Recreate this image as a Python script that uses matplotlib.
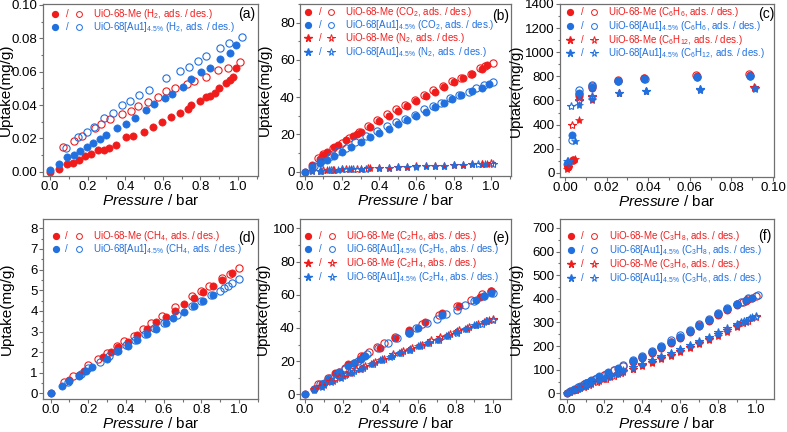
import matplotlib
matplotlib.use("Agg")
import matplotlib.pyplot as plt
from matplotlib.ticker import AutoMinorLocator

plt.rcParams["font.family"] = ["Liberation Sans", "DejaVu Sans"]
plt.rcParams["mathtext.fontset"] = "custom"
plt.rcParams["mathtext.rm"] = "Liberation Sans"
plt.rcParams["mathtext.it"] = "Liberation Sans:italic"
plt.rcParams["mathtext.default"] = "regular"

RED = "#f01c1c"
BLUE = "#2070e0"
FRAME = "#707070"

# ---- (a) H2 ----
a_me_ads_p = [0.0, 0.05, 0.088, 0.124, 0.156, 0.186, 0.218, 0.253, 0.285, 0.313, 0.35, 0.404, 0.442, 0.499, 0.549, 0.596, 0.642, 0.69, 0.735, 0.752, 0.796, 0.832, 0.85, 0.88, 0.897, 0.938, 0.956, 0.973, 0.99]
a_me_ads_u = [0.0, 0.0016, 0.0046, 0.005, 0.007, 0.0094, 0.0104, 0.0128, 0.0128, 0.014, 0.016, 0.021, 0.0214, 0.024, 0.027, 0.0298, 0.0326, 0.0352, 0.0374, 0.04, 0.0426, 0.0446, 0.0454, 0.0474, 0.05, 0.0534, 0.055, 0.0566, 0.062]
a_me_des_p = [0.07, 0.127, 0.168, 0.239, 0.274, 0.319, 0.381, 0.43, 0.469, 0.522, 0.575, 0.619, 0.667, 0.726, 0.766, 0.827, 0.894, 0.947, 1.009]
a_me_des_u = [0.0146, 0.0184, 0.0214, 0.026, 0.0286, 0.0314, 0.0346, 0.0366, 0.0394, 0.042, 0.045, 0.0486, 0.0502, 0.0526, 0.0546, 0.057, 0.061, 0.0624, 0.0658]
a_au_ads_p = [0.0, 0.05, 0.088, 0.127, 0.159, 0.195, 0.23, 0.265, 0.297, 0.357, 0.404, 0.451, 0.508, 0.552, 0.611, 0.65, 0.708, 0.749, 0.805, 0.85, 0.903, 0.956, 0.991]
a_au_ads_u = [0.001, 0.0044, 0.0086, 0.01, 0.0126, 0.015, 0.0174, 0.0194, 0.022, 0.026, 0.0286, 0.032, 0.037, 0.0404, 0.044, 0.0466, 0.0506, 0.0554, 0.0596, 0.0624, 0.0678, 0.0714, 0.076]
a_au_des_p = [0.083, 0.15, 0.195, 0.235, 0.287, 0.333, 0.381, 0.425, 0.474, 0.524, 0.619, 0.69, 0.738, 0.788, 0.832, 0.903, 0.952, 1.023]
a_au_des_u = [0.0144, 0.021, 0.0236, 0.027, 0.032, 0.0354, 0.04, 0.0426, 0.046, 0.049, 0.0564, 0.0606, 0.063, 0.0664, 0.0694, 0.074, 0.0774, 0.081]

# ---- (b) CO2 / N2 ----
b_me_co2_ads_p = [0.0, 0.04, 0.08, 0.1, 0.12, 0.16, 0.18, 0.22, 0.26, 0.28, 0.3, 0.35, 0.4, 0.45, 0.5, 0.55, 0.6, 0.65, 0.7, 0.75, 0.8, 0.85, 0.9, 0.95, 0.98]
b_me_co2_ads_u = [0.0, 3.5, 7.0, 9.0, 10.5, 13.0, 14.5, 17.0, 19.0, 20.0, 21.5, 24.0, 27.0, 30.0, 32.5, 35.5, 38.0, 40.5, 43.0, 45.5, 48.0, 50.5, 52.5, 55.0, 57.5]
b_me_co2_des_p = [0.07, 0.1, 0.15, 0.2, 0.24, 0.29, 0.34, 0.39, 0.44, 0.49, 0.54, 0.59, 0.64, 0.69, 0.74, 0.79, 0.84, 0.89, 0.94, 0.97, 1.01]
b_me_co2_des_u = [7.5, 9.5, 12.5, 15.5, 18.0, 21.5, 24.5, 27.5, 31.0, 33.5, 36.0, 38.5, 41.0, 44.0, 46.0, 48.5, 50.5, 52.5, 55.5, 56.5, 58.5]
b_au_co2_ads_p = [0.0, 0.04, 0.08, 0.12, 0.16, 0.2, 0.25, 0.3, 0.35, 0.4, 0.45, 0.5, 0.55, 0.6, 0.65, 0.7, 0.75, 0.79, 0.84, 0.9, 0.95, 0.99]
b_au_co2_ads_u = [0.0, 2.5, 4.5, 6.5, 8.5, 10.5, 13.5, 16.0, 18.5, 21.0, 23.0, 25.5, 27.5, 30.0, 32.0, 34.5, 37.0, 39.0, 41.0, 43.5, 45.0, 47.0]
b_au_co2_des_p = [0.05, 0.09, 0.14, 0.18, 0.22, 0.27, 0.33, 0.39, 0.44, 0.49, 0.54, 0.59, 0.64, 0.69, 0.73, 0.78, 0.83, 0.88, 0.92, 0.96, 1.01]
b_au_co2_des_u = [3.0, 6.0, 8.5, 11.0, 12.5, 16.0, 19.0, 22.0, 24.5, 26.5, 28.5, 30.5, 33.5, 35.0, 37.0, 39.5, 41.0, 43.0, 45.0, 46.5, 48.0]
b_me_n2_ads_p = [0.04, 0.08, 0.12, 0.16, 0.2, 0.25, 0.3, 0.35, 0.45, 0.55, 0.65, 0.75, 0.85, 0.95, 0.98]
b_me_n2_ads_u = [0.3, 0.6, 0.8, 1.0, 1.2, 1.4, 1.6, 1.8, 2.2, 2.5, 2.9, 3.2, 3.6, 4.0, 4.3]
b_me_n2_des_p = [0.1, 0.15, 0.22, 0.28, 0.34, 0.4, 0.5, 0.6, 0.7, 0.8, 0.9, 0.95, 1.0]
b_me_n2_des_u = [0.7, 1.0, 1.3, 1.5, 1.8, 2.0, 2.4, 2.8, 3.2, 3.6, 4.0, 4.2, 4.5]
b_au_n2_ads_p = [0.04, 0.08, 0.13, 0.18, 0.24, 0.3, 0.4, 0.5, 0.6, 0.7, 0.8, 0.9, 0.97]
b_au_n2_ads_u = [0.3, 0.5, 0.8, 1.0, 1.3, 1.5, 1.9, 2.3, 2.7, 3.1, 3.5, 3.9, 4.2]
b_au_n2_des_p = [0.09, 0.14, 0.2, 0.26, 0.33, 0.45, 0.55, 0.65, 0.75, 0.85, 0.93, 1.01]
b_au_n2_des_u = [0.6, 0.9, 1.2, 1.4, 1.7, 2.1, 2.5, 2.9, 3.3, 3.7, 4.0, 4.3]

# ---- (c) C6H6 / C6H12 ----
c_me_bz_ads_p = [0.0013, 0.0038, 0.0065, 0.0128, 0.0255, 0.038, 0.0635, 0.089]
c_me_bz_ads_u = [45, 105, 640, 705, 765, 785, 805, 815]
c_me_bz_des_p = [0.0015, 0.0038, 0.0065, 0.013, 0.0255, 0.038, 0.063, 0.0885]
c_me_bz_des_u = [55, 110, 655, 720, 770, 790, 810, 822]
c_au_bz_ads_p = [0.0012, 0.0033, 0.0065, 0.0128, 0.0255, 0.038, 0.0635, 0.089]
c_au_bz_ads_u = [70, 315, 660, 715, 760, 780, 795, 805]
c_au_bz_des_p = [0.0013, 0.0035, 0.0066, 0.0128, 0.0255, 0.0383, 0.0635, 0.0888]
c_au_bz_des_u = [80, 275, 685, 725, 765, 780, 795, 805]
c_me_cy_ads_p = [0.0012, 0.0048, 0.0068, 0.013, 0.026, 0.039, 0.065, 0.091]
c_me_cy_ads_u = [35, 118, 435, 600, 665, 675, 690, 705]
c_me_cy_des_p = [0.0014, 0.0032, 0.0066, 0.013, 0.026, 0.039, 0.065, 0.091]
c_me_cy_des_u = [45, 400, 595, 625, 665, 680, 695, 710]
c_au_cy_ads_p = [0.0012, 0.005, 0.0066, 0.013, 0.026, 0.039, 0.065, 0.0915]
c_au_cy_ads_u = [95, 265, 560, 610, 660, 675, 690, 695]
c_au_cy_des_p = [0.0013, 0.003, 0.0066, 0.013, 0.026, 0.039, 0.065, 0.0915]
c_au_cy_des_u = [100, 550, 600, 640, 665, 680, 695, 700]

# ---- (d) CH4 ----
d_me_ads_p = [0.0, 0.1, 0.15, 0.18, 0.28, 0.32, 0.36, 0.41, 0.46, 0.51, 0.56, 0.61, 0.66, 0.71, 0.76, 0.81, 0.86, 0.91, 0.96]
d_me_ads_u = [0.0, 0.65, 0.9, 1.1, 1.75, 2.0, 2.25, 2.5, 2.85, 3.1, 3.45, 3.7, 4.0, 4.32, 4.6, 4.92, 5.22, 5.5, 5.83]
d_me_des_p = [0.07, 0.12, 0.2, 0.25, 0.3, 0.35, 0.39, 0.44, 0.49, 0.53, 0.59, 0.66, 0.75, 0.8, 0.84, 0.91, 0.95, 1.0]
d_me_des_u = [0.55, 0.85, 1.4, 1.65, 1.95, 2.3, 2.55, 2.8, 3.1, 3.4, 3.75, 4.2, 4.7, 4.95, 5.2, 5.6, 5.8, 6.08]
d_au_ads_p = [0.0, 0.06, 0.1, 0.15, 0.19, 0.22, 0.3, 0.36, 0.41, 0.46, 0.51, 0.56, 0.61, 0.65, 0.71, 0.76, 0.81, 0.86]
d_au_ads_u = [0.0, 0.35, 0.6, 0.85, 1.08, 1.28, 1.68, 2.05, 2.32, 2.58, 2.87, 3.12, 3.42, 3.65, 3.95, 4.25, 4.5, 4.75]
d_au_des_p = [0.09, 0.16, 0.2, 0.26, 0.31, 0.35, 0.4, 0.45, 0.5, 0.55, 0.6, 0.67, 0.75, 0.8, 0.85, 0.9, 0.92, 0.94, 0.96, 1.0]
d_au_des_u = [0.55, 0.95, 1.25, 1.5, 1.8, 2.05, 2.35, 2.6, 2.9, 3.15, 3.42, 3.8, 4.25, 4.5, 4.75, 4.97, 5.1, 5.22, 5.35, 5.55]

# ---- (e) C2H6 / C2H4 ----
e_me_c2h6_ads_p = [0.0, 0.05, 0.09, 0.16, 0.23, 0.29, 0.31, 0.4, 0.48, 0.55, 0.64, 0.73, 0.82, 0.93, 0.99]
e_me_c2h6_ads_u = [0.0, 3.5, 6.5, 13.0, 18.0, 21.0, 23.0, 28.0, 34.0, 39.0, 43.5, 49.0, 53.0, 58.5, 62.5]
e_me_c2h6_des_p = [0.07, 0.12, 0.18, 0.21, 0.26, 0.3, 0.34, 0.38, 0.42, 0.48, 0.55, 0.62, 0.71, 0.81, 0.88, 0.94, 0.99]
e_me_c2h6_des_u = [6.5, 10.0, 13.5, 16.0, 19.0, 23.0, 25.5, 28.5, 31.0, 34.5, 37.5, 42.5, 48.0, 53.0, 57.0, 60.5, 62.0]
e_au_c2h6_ads_p = [0.0, 0.05, 0.1, 0.12, 0.18, 0.23, 0.26, 0.3, 0.32, 0.55, 0.6, 0.73, 0.91, 0.95, 0.99]
e_au_c2h6_ads_u = [0.0, 3.5, 7.0, 9.0, 13.5, 17.0, 19.0, 21.5, 23.0, 37.0, 40.0, 48.0, 57.0, 59.0, 61.0]
e_au_c2h6_des_p = [0.08, 0.13, 0.17, 0.21, 0.28, 0.33, 0.39, 0.44, 0.49, 0.55, 0.59, 0.65, 0.7, 0.75, 0.81, 0.85, 0.9, 0.95, 1.0]
e_au_c2h6_des_u = [6.0, 10.0, 12.0, 15.5, 20.0, 24.0, 28.0, 31.0, 34.0, 37.0, 40.0, 43.0, 45.5, 48.5, 51.0, 54.0, 56.5, 59.0, 61.0]
e_me_c2h4_ads_p = [0.05, 0.1, 0.15, 0.2, 0.24, 0.29, 0.31, 0.36, 0.41, 0.46, 0.51, 0.56, 0.61, 0.66, 0.71, 0.76, 0.81, 0.86, 0.91, 0.95, 0.98]
e_me_c2h4_ads_u = [3.0, 5.5, 8.0, 11.0, 13.0, 15.0, 16.5, 19.0, 21.0, 23.0, 25.5, 27.5, 29.5, 31.5, 33.5, 36.0, 38.0, 40.0, 42.0, 43.5, 45.0]
e_me_c2h4_des_p = [0.08, 0.13, 0.18, 0.22, 0.27, 0.32, 0.37, 0.42, 0.47, 0.52, 0.57, 0.62, 0.67, 0.72, 0.77, 0.82, 0.87, 0.92, 0.96, 1.0]
e_me_c2h4_des_u = [5.0, 8.0, 10.5, 12.5, 15.0, 17.0, 19.5, 21.5, 24.0, 26.0, 28.0, 30.0, 32.5, 34.5, 36.5, 38.5, 40.5, 42.5, 44.0, 45.5]
e_au_c2h4_ads_p = [0.05, 0.09, 0.14, 0.19, 0.25, 0.3, 0.35, 0.4, 0.45, 0.5, 0.55, 0.6, 0.65, 0.7, 0.75, 0.8, 0.85, 0.9, 0.96]
e_au_c2h4_ads_u = [2.5, 4.5, 7.5, 10.0, 13.0, 15.5, 18.0, 20.5, 22.5, 25.0, 27.0, 29.0, 31.0, 33.0, 35.0, 37.5, 39.5, 41.5, 44.0]
e_au_c2h4_des_p = [0.1, 0.16, 0.21, 0.26, 0.31, 0.36, 0.41, 0.46, 0.51, 0.56, 0.61, 0.66, 0.71, 0.76, 0.81, 0.86, 0.91, 0.94, 0.97, 1.0]
e_au_c2h4_des_u = [6.0, 9.0, 11.5, 14.0, 16.0, 18.5, 20.5, 23.0, 25.0, 27.0, 29.0, 31.0, 33.0, 35.0, 37.0, 39.5, 41.5, 42.5, 44.0, 45.0]

# ---- (f) C3H8 / C3H6 ----
f_me_c3h8_ads_p = [0.0, 0.02, 0.04, 0.07, 0.1, 0.13, 0.17, 0.22, 0.27, 0.35, 0.4, 0.45, 0.5, 0.55, 0.6, 0.65, 0.7, 0.75, 0.8, 0.85, 0.9, 0.95, 0.98]
f_me_c3h8_ads_u = [0.0, 8, 16, 28, 42, 52, 67, 85, 102, 132, 150, 170, 192, 213, 236, 258, 283, 307, 330, 352, 375, 390, 402]
f_me_c3h8_des_p = [0.05, 0.09, 0.12, 0.15, 0.2, 0.25, 0.3, 0.35, 0.4, 0.45, 0.5, 0.55, 0.6, 0.65, 0.7, 0.75, 0.8, 0.85, 0.9, 0.93, 0.96, 1.0]
f_me_c3h8_des_u = [20, 38, 50, 60, 78, 97, 115, 135, 155, 175, 196, 218, 240, 263, 288, 312, 335, 355, 378, 388, 398, 410]
f_au_c3h8_ads_p = [0.0, 0.02, 0.04, 0.07, 0.1, 0.13, 0.17, 0.22, 0.27, 0.35, 0.4, 0.45, 0.5, 0.55, 0.6, 0.65, 0.7, 0.75, 0.8, 0.85, 0.9, 0.95, 0.98]
f_au_c3h8_ads_u = [0.0, 9, 18, 30, 44, 55, 72, 90, 107, 136, 154, 175, 196, 218, 240, 263, 287, 311, 334, 356, 378, 393, 405]
f_au_c3h8_des_p = [0.06, 0.1, 0.13, 0.16, 0.21, 0.25, 0.3, 0.35, 0.4, 0.45, 0.5, 0.55, 0.6, 0.65, 0.7, 0.75, 0.8, 0.85, 0.9, 0.92, 0.96, 1.01]
f_au_c3h8_des_u = [25, 42, 54, 66, 83, 100, 120, 140, 160, 180, 202, 225, 247, 270, 293, 316, 340, 360, 380, 388, 402, 415]
f_me_c3h6_ads_p = [0.0, 0.02, 0.04, 0.07, 0.1, 0.13, 0.17, 0.2, 0.23, 0.27, 0.3, 0.35, 0.4, 0.45, 0.5, 0.55, 0.6, 0.65, 0.7, 0.75, 0.8, 0.85, 0.9, 0.95, 0.98]
f_me_c3h6_ads_u = [0.0, 6, 12, 21, 31, 40, 52, 62, 71, 81, 90, 102, 115, 130, 145, 160, 176, 192, 208, 226, 243, 260, 280, 300, 318]
f_me_c3h6_des_p = [0.05, 0.09, 0.12, 0.16, 0.21, 0.25, 0.29, 0.35, 0.4, 0.45, 0.5, 0.55, 0.6, 0.65, 0.7, 0.75, 0.8, 0.85, 0.9, 0.93, 0.96, 1.0]
f_me_c3h6_des_u = [14, 26, 35, 46, 61, 72, 84, 103, 118, 133, 148, 164, 180, 197, 214, 232, 250, 267, 287, 297, 308, 322]
f_au_c3h6_ads_p = [0.0, 0.02, 0.04, 0.07, 0.1, 0.13, 0.17, 0.2, 0.23, 0.27, 0.3, 0.35, 0.4, 0.45, 0.5, 0.55, 0.6, 0.65, 0.7, 0.75, 0.8, 0.85, 0.9, 0.95, 0.98]
f_au_c3h6_ads_u = [0.0, 7, 14, 24, 35, 44, 57, 67, 77, 87, 97, 110, 124, 139, 155, 170, 186, 203, 219, 236, 253, 270, 290, 308, 322]
f_au_c3h6_des_p = [0.06, 0.1, 0.13, 0.17, 0.22, 0.26, 0.3, 0.35, 0.4, 0.45, 0.5, 0.55, 0.6, 0.65, 0.7, 0.75, 0.8, 0.85, 0.9, 0.92, 0.94, 0.97, 1.0]
f_au_c3h6_des_u = [18, 32, 42, 55, 70, 82, 95, 110, 125, 140, 156, 172, 188, 205, 222, 240, 258, 275, 294, 300, 308, 318, 328]

LBL_ME = "UiO-68-Me"
LBL_AU = "UiO-68[Au1]$_{4.5\\%}$"


def style_axes(ax, xlim, ylim, xticks, yticks, xfmt, yfmt, ylab_x, xlab_y):
    ax.set_xlim(*xlim)
    ax.set_ylim(*ylim)
    ax.set_xticks(xticks)
    ax.set_yticks(yticks)
    ax.set_xticklabels([xfmt.format(v) for v in xticks])
    ax.set_yticklabels([yfmt.format(v) for v in yticks])
    ax.xaxis.set_minor_locator(AutoMinorLocator(2))
    ax.yaxis.set_minor_locator(AutoMinorLocator(2))
    ax.tick_params(which="both", direction="out", color=FRAME, labelsize=9.5, width=0.8)
    ax.tick_params(which="major", length=3, pad=0.8)
    ax.tick_params(which="minor", length=1.8)
    for s in ax.spines.values():
        s.set_color(FRAME)
        s.set_linewidth(0.9)
    ax.set_xlabel("$\\it{Pressure}$ / bar", fontsize=11)
    ax.set_ylabel("Uptake(mg/g)", fontsize=11)
    ax.yaxis.set_label_coords(ylab_x, 0.5)
    ax.xaxis.set_label_coords(0.5, xlab_y)


def pts(ax, p, u, color, marker, filled, size):
    ax.plot(p, u, linestyle="none", marker=marker, markersize=size,
            markerfacecolor=color if filled else "none",
            markeredgecolor=color, markeredgewidth=0.8 if not filled else 0.5)


def legend_rows(ax, rows, xs, ys):
    # rows: (marker, color, text)
    for (marker, color, text), y in zip(rows, ys):
        size = 4.2 if marker == "o" else 5.5
        ax.plot([xs[0]], [y], marker=marker, color=color, markersize=size,
                transform=ax.transAxes, clip_on=False)
        ax.text(xs[1], y, "/", color=color, fontsize=7, ha="center", va="center",
                transform=ax.transAxes)
        ax.plot([xs[2]], [y], marker=marker, markerfacecolor="none", markeredgecolor=color,
                markeredgewidth=0.7, markersize=size, transform=ax.transAxes, clip_on=False)
        ax.text(xs[3], y, text, color=color, fontsize=7, ha="left", va="center",
                transform=ax.transAxes)


fig = plt.figure(figsize=(7.87, 4.32), dpi=100)
W, H = 787.0, 432.0


def add_axes(left, top, right, bottom):
    return fig.add_axes([left / W, 1 - bottom / H, (right - left) / W, (bottom - top) / H])


ax_a = add_axes(43, 4, 258, 176)
ax_b = add_axes(300, 4, 511, 176)
ax_c = add_axes(560, 4, 774, 177)
ax_d = add_axes(43, 219, 258, 399)
ax_e = add_axes(300, 219, 511, 399)
ax_f = add_axes(560, 219, 774, 399)

MS = 5.2
SS = 6.0
XL_TOP = -0.1
XL_BOT = -0.095

# (a)
pts(ax_a, a_me_ads_p, a_me_ads_u, RED, "o", True, MS)
pts(ax_a, a_me_des_p, a_me_des_u, RED, "o", False, MS)
pts(ax_a, a_au_ads_p, a_au_ads_u, BLUE, "o", True, MS)
pts(ax_a, a_au_des_p, a_au_des_u, BLUE, "o", False, MS)
style_axes(ax_a, (-0.037, 1.106), (-0.0025, 0.1005), [0, 0.2, 0.4, 0.6, 0.8, 1.0],
           [0, 0.02, 0.04, 0.06, 0.08, 0.10], "{:.1f}", "{:.2f}", -0.14, XL_TOP)
legend_rows(ax_a, [("o", RED, LBL_ME + " (H$_2$, ads. / des.)"),
                   ("o", BLUE, LBL_AU + " (H$_2$, ads. / des.)")],
            [0.056, 0.112, 0.167, 0.233], [0.942, 0.866])
ax_a.text(0.947, 0.94, "(a)", transform=ax_a.transAxes, fontsize=10, ha="center", va="center")

# (b)
pts(ax_b, b_me_co2_ads_p, b_me_co2_ads_u, RED, "o", True, MS)
pts(ax_b, b_me_co2_des_p, b_me_co2_des_u, RED, "o", False, MS)
pts(ax_b, b_au_co2_ads_p, b_au_co2_ads_u, BLUE, "o", True, MS)
pts(ax_b, b_au_co2_des_p, b_au_co2_des_u, BLUE, "o", False, MS)
pts(ax_b, b_me_n2_ads_p, b_me_n2_ads_u, RED, "*", True, SS)
pts(ax_b, b_me_n2_des_p, b_me_n2_des_u, RED, "*", False, SS)
pts(ax_b, b_au_n2_ads_p, b_au_n2_ads_u, BLUE, "*", True, SS)
pts(ax_b, b_au_n2_des_p, b_au_n2_des_u, BLUE, "*", False, SS)
style_axes(ax_b, (-0.025, 1.107), (-2.3, 90), [0, 0.2, 0.4, 0.6, 0.8, 1.0],
           [0, 20, 40, 60, 80], "{:.1f}", "{:d}", -0.134, XL_TOP)
legend_rows(ax_b, [("o", RED, LBL_ME + " (CO$_2$, ads. / des.)"),
                   ("o", BLUE, LBL_AU + " (CO$_2$, ads. / des.)"),
                   ("*", RED, LBL_ME + " (N$_2$, ads. / des.)"),
                   ("*", BLUE, LBL_AU + " (N$_2$, ads. / des.)")],
            [0.04, 0.098, 0.147, 0.213], [0.953, 0.877, 0.801, 0.722])
ax_b.text(0.95, 0.93, "(b)", transform=ax_b.transAxes, fontsize=10, ha="center", va="center")

# (c)
pts(ax_c, c_me_bz_ads_p, c_me_bz_ads_u, RED, "o", True, MS)
pts(ax_c, c_me_bz_des_p, c_me_bz_des_u, RED, "o", False, MS)
pts(ax_c, c_au_bz_ads_p, c_au_bz_ads_u, BLUE, "o", True, MS)
pts(ax_c, c_au_bz_des_p, c_au_bz_des_u, BLUE, "o", False, MS)
pts(ax_c, c_me_cy_ads_p, c_me_cy_ads_u, RED, "*", True, SS)
pts(ax_c, c_me_cy_des_p, c_me_cy_des_u, RED, "*", False, SS)
pts(ax_c, c_au_cy_ads_p, c_au_cy_ads_u, BLUE, "*", True, SS)
pts(ax_c, c_au_cy_des_p, c_au_cy_des_u, BLUE, "*", False, SS)
style_axes(ax_c, (-0.0024, 0.1005), (-35, 1400), [0, 0.02, 0.04, 0.06, 0.08, 0.10],
           [0, 200, 400, 600, 800, 1000, 1200, 1400], "{:.2f}", "{:d}", -0.173, XL_TOP)
legend_rows(ax_c, [("o", RED, LBL_ME + " (C$_6$H$_6$, ads. / des.)"),
                   ("o", BLUE, LBL_AU + " (C$_6$H$_6$, ads. / des.)"),
                   ("*", RED, LBL_ME + " (C$_6$H$_{12}$, ads. / des.)"),
                   ("*", BLUE, LBL_AU + " (C$_6$H$_{12}$, ads. / des.)")],
            [0.047, 0.106, 0.159, 0.224], [0.952, 0.874, 0.793, 0.715])
ax_c.text(0.963, 0.94, "(c)", transform=ax_c.transAxes, fontsize=10, ha="center", va="center")

# (d)
pts(ax_d, d_me_ads_p, d_me_ads_u, RED, "o", True, MS)
pts(ax_d, d_me_des_p, d_me_des_u, RED, "o", False, MS)
pts(ax_d, d_au_ads_p, d_au_ads_u, BLUE, "o", True, MS)
pts(ax_d, d_au_des_p, d_au_des_u, BLUE, "o", False, MS)
style_axes(ax_d, (-0.04, 1.1), (-0.27, 8.45), [0, 0.2, 0.4, 0.6, 0.8, 1.0],
           [0, 1, 2, 3, 4, 5, 6, 7, 8], "{:.1f}", "{:d}", -0.135, XL_BOT)
legend_rows(ax_d, [("o", RED, LBL_ME + " (CH$_4$, ads. / des.)"),
                   ("o", BLUE, LBL_AU + " (CH$_4$, ads. / des.)")],
            [0.06, 0.11, 0.167, 0.234], [0.907, 0.833])
ax_d.text(0.947, 0.896, "(d)", transform=ax_d.transAxes, fontsize=10, ha="center", va="center")

# (e)
pts(ax_e, e_me_c2h6_ads_p, e_me_c2h6_ads_u, RED, "o", True, MS)
pts(ax_e, e_me_c2h6_des_p, e_me_c2h6_des_u, RED, "o", False, MS)
pts(ax_e, e_au_c2h6_ads_p, e_au_c2h6_ads_u, BLUE, "o", True, MS)
pts(ax_e, e_au_c2h6_des_p, e_au_c2h6_des_u, BLUE, "o", False, MS)
pts(ax_e, e_me_c2h4_ads_p, e_me_c2h4_ads_u, RED, "*", True, SS)
pts(ax_e, e_me_c2h4_des_p, e_me_c2h4_des_u, RED, "*", False, SS)
pts(ax_e, e_au_c2h4_ads_p, e_au_c2h4_ads_u, BLUE, "*", True, SS)
pts(ax_e, e_au_c2h4_des_p, e_au_c2h4_des_u, BLUE, "*", False, SS)
style_axes(ax_e, (-0.027, 1.095), (-2.8, 105.6), [0, 0.2, 0.4, 0.6, 0.8, 1.0],
           [0, 20, 40, 60, 80, 100], "{:.1f}", "{:d}", -0.142, XL_BOT)
legend_rows(ax_e, [("o", RED, LBL_ME + " (C$_2$H$_6$, abs. / des.)"),
                   ("o", BLUE, LBL_AU + " (C$_2$H$_6$, abs. / des.)"),
                   ("*", RED, LBL_ME + " (C$_2$H$_4$, abs. / des.)"),
                   ("*", BLUE, LBL_AU + " (C$_2$H$_4$, abs. / des.)")],
            [0.04, 0.098, 0.15, 0.218], [0.907, 0.833, 0.754, 0.676])
ax_e.text(0.95, 0.896, "(e)", transform=ax_e.transAxes, fontsize=10, ha="center", va="center")

# (f)
pts(ax_f, f_me_c3h8_ads_p, f_me_c3h8_ads_u, RED, "o", True, MS)
pts(ax_f, f_me_c3h8_des_p, f_me_c3h8_des_u, RED, "o", False, MS)
pts(ax_f, f_au_c3h8_ads_p, f_au_c3h8_ads_u, BLUE, "o", True, MS)
pts(ax_f, f_au_c3h8_des_p, f_au_c3h8_des_u, BLUE, "o", False, MS)
pts(ax_f, f_me_c3h6_ads_p, f_me_c3h6_ads_u, RED, "*", True, SS)
pts(ax_f, f_me_c3h6_des_p, f_me_c3h6_des_u, RED, "*", False, SS)
pts(ax_f, f_au_c3h6_ads_p, f_au_c3h6_ads_u, BLUE, "*", True, SS)
pts(ax_f, f_au_c3h6_des_p, f_au_c3h6_des_u, BLUE, "*", False, SS)
style_axes(ax_f, (-0.035, 1.096), (-24, 738), [0, 0.2, 0.4, 0.6, 0.8, 1.0],
           [0, 100, 200, 300, 400, 500, 600, 700], "{:.1f}", "{:d}", -0.173, XL_BOT)
legend_rows(ax_f, [("o", RED, LBL_ME + " (C$_3$H$_8$, ads. / des.)"),
                   ("o", BLUE, LBL_AU + " (C$_3$H$_8$, ads. / des.)"),
                   ("*", RED, LBL_ME + " (C$_3$H$_6$, ads. / des.)"),
                   ("*", BLUE, LBL_AU + " (C$_3$H$_6$, ads. / des.)")],
            [0.05, 0.106, 0.159, 0.23], [0.907, 0.828, 0.749, 0.671])
ax_f.text(0.958, 0.907, "(f)", transform=ax_f.transAxes, fontsize=10, ha="center", va="center")

fig.savefig("out.png", dpi=100)
